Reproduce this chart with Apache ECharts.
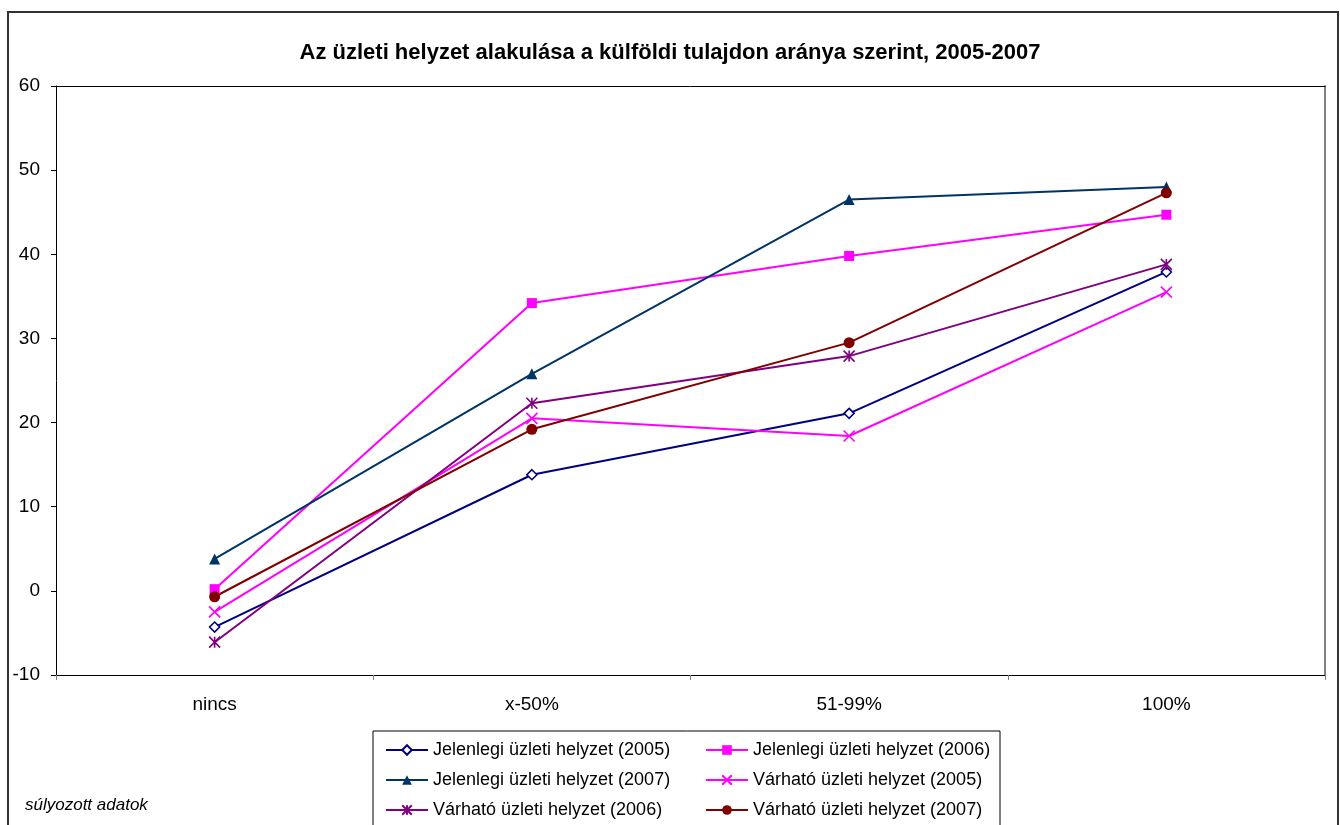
<!DOCTYPE html>
<html style="height: 100%">
<head>
   <meta charset="utf-8">
</head>
<style>
    body, html, #chart {
        margin: 0;
        width: 100%;
        height: 100%;
        background: #fff;
    }
</style>
<title>Az üzleti helyzet alakulása</title>
<script src="https://cdn.jsdelivr.net/npm/echarts@6/dist/echarts.min.js"></script>
<body>
   <div id="chart"></div>
   <script type="text/javascript">
    // adatok
    var categories = ['nincs', 'x-50%', '51-99%', '100%'];
    var jelenlegi2005 = [-4.3, 13.8, 21.1, 37.9];
    var jelenlegi2006 = [0.2, 34.2, 39.8, 44.7];
    var jelenlegi2007 = [3.8, 25.8, 46.5, 48.0];
    var varhato2005 = [-2.5, 20.5, 18.4, 35.5];
    var varhato2006 = [-6.1, 22.3, 27.9, 38.8];
    var varhato2007 = [-0.7, 19.2, 29.5, 47.3];

    var names = [
        'Jelenlegi üzleti helyzet (2005)',
        'Jelenlegi üzleti helyzet (2006)',
        'Jelenlegi üzleti helyzet (2007)',
        'Várható üzleti helyzet (2005)',
        'Várható üzleti helyzet (2006)',
        'Várható üzleti helyzet (2007)'
    ];

    var xPath = 'path://M0,0 L10,10 M10,0 L0,10';
    var starPath = 'path://M0,0 L10,10 M10,0 L0,10 M5,0 L5,10';

    function line(name, data, color, symbol, size, hollow, stroked) {
        return {
            name: name,
            type: 'line',
            data: data,
            symbol: symbol,
            symbolSize: size,
            showAllSymbol: true,
            lineStyle: { color: color, width: 2 },
            itemStyle: {
                color: hollow ? '#fff' : color,
                borderColor: color,
                borderWidth: (hollow || stroked) ? 1.6 : 0
            },
            emphasis: { disabled: true },
            animation: false
        };
    }

    var chart = echarts.init(document.getElementById('chart'));
    var font = 'Liberation Sans, Arial, sans-serif';

    var option = {
        backgroundColor: '#fff',
        textStyle: { fontFamily: font },
        title: {
            text: 'Az üzleti helyzet alakulása a külföldi tulajdon aránya szerint, 2005-2007',
            left: 'center',
            top: 37,
            textStyle: { fontSize: 22, fontWeight: 'bold', color: '#000', fontFamily: font }
        },
        legend: [{
            orient: 'vertical',
            left: 380,
            top: 736,
            itemGap: 12,
            itemWidth: 42,
            itemHeight: 12,
            textStyle: { fontSize: 18, color: '#000', fontFamily: font },
            data: [names[0], names[2], names[4]]
        }, {
            orient: 'vertical',
            left: 700,
            top: 736,
            itemGap: 12,
            itemWidth: 42,
            itemHeight: 12,
            textStyle: { fontSize: 18, color: '#000', fontFamily: font },
            data: [names[1], names[3], names[5]]
        }],
        graphic: [{
            type: 'rect',
            shape: { x: 8, y: 12, width: 1330, height: 830 },
            style: { fill: null, stroke: '#333', lineWidth: 2 },
            silent: true
        }, {
            type: 'rect',
            shape: { x: 373, y: 731, width: 627, height: 110 },
            style: { fill: null, stroke: '#000', lineWidth: 1 },
            silent: true
        }, {
            type: 'text',
            left: 25,
            top: 797,
            style: { text: 'súlyozott adatok', font: 'italic 17px ' + font, fill: '#000' }
        }],
        grid: { left: 56, right: 15, top: 86, bottom: 150 },
        xAxis: [{
            type: 'category',
            data: categories,
            boundaryGap: true,
            axisLine: { onZero: false, lineStyle: { color: '#000', width: 1 } },
            axisTick: { show: true, length: 5, interval: 0, lineStyle: { color: '#808080' } },
            axisLabel: { fontSize: 19, color: '#000', margin: 20, fontFamily: font },
            splitLine: { show: false }
        }, {
            type: 'category',
            data: categories,
            position: 'top',
            axisLine: { show: true, onZero: false, lineStyle: { color: '#000', width: 1 } },
            axisTick: { show: false },
            axisLabel: { show: false }
        }],
        yAxis: [{
            type: 'value',
            min: -10,
            max: 60,
            interval: 10,
            axisLine: { show: true, onZero: false, lineStyle: { color: '#000', width: 1 } },
            axisTick: { show: true, length: 5, lineStyle: { color: '#000' } },
            axisLabel: { fontSize: 19, color: '#000', margin: 16, fontFamily: font },
            splitLine: { show: false }
        }, {
            type: 'value',
            min: -10,
            max: 60,
            interval: 10,
            position: 'right',
            axisLine: { show: true, onZero: false, lineStyle: { color: '#808080', width: 2 } },
            axisTick: { show: false },
            axisLabel: { show: false },
            splitLine: { show: false }
        }],
        series: [
            line(names[0], jelenlegi2005, '#000080', 'diamond', 10, true, false),
            line(names[1], jelenlegi2006, '#FF00FF', 'rect', 10, false, false),
            line(names[2], jelenlegi2007, '#003366', 'triangle', 11, false, false),
            line(names[3], varhato2005, '#FF00FF', xPath, 11, false, true),
            line(names[4], varhato2006, '#800080', starPath, 11, false, true),
            line(names[5], varhato2007, '#800000', 'circle', 11, false, false)
        ]
    };

    chart.setOption(option);
   </script>
</body>
</html>
